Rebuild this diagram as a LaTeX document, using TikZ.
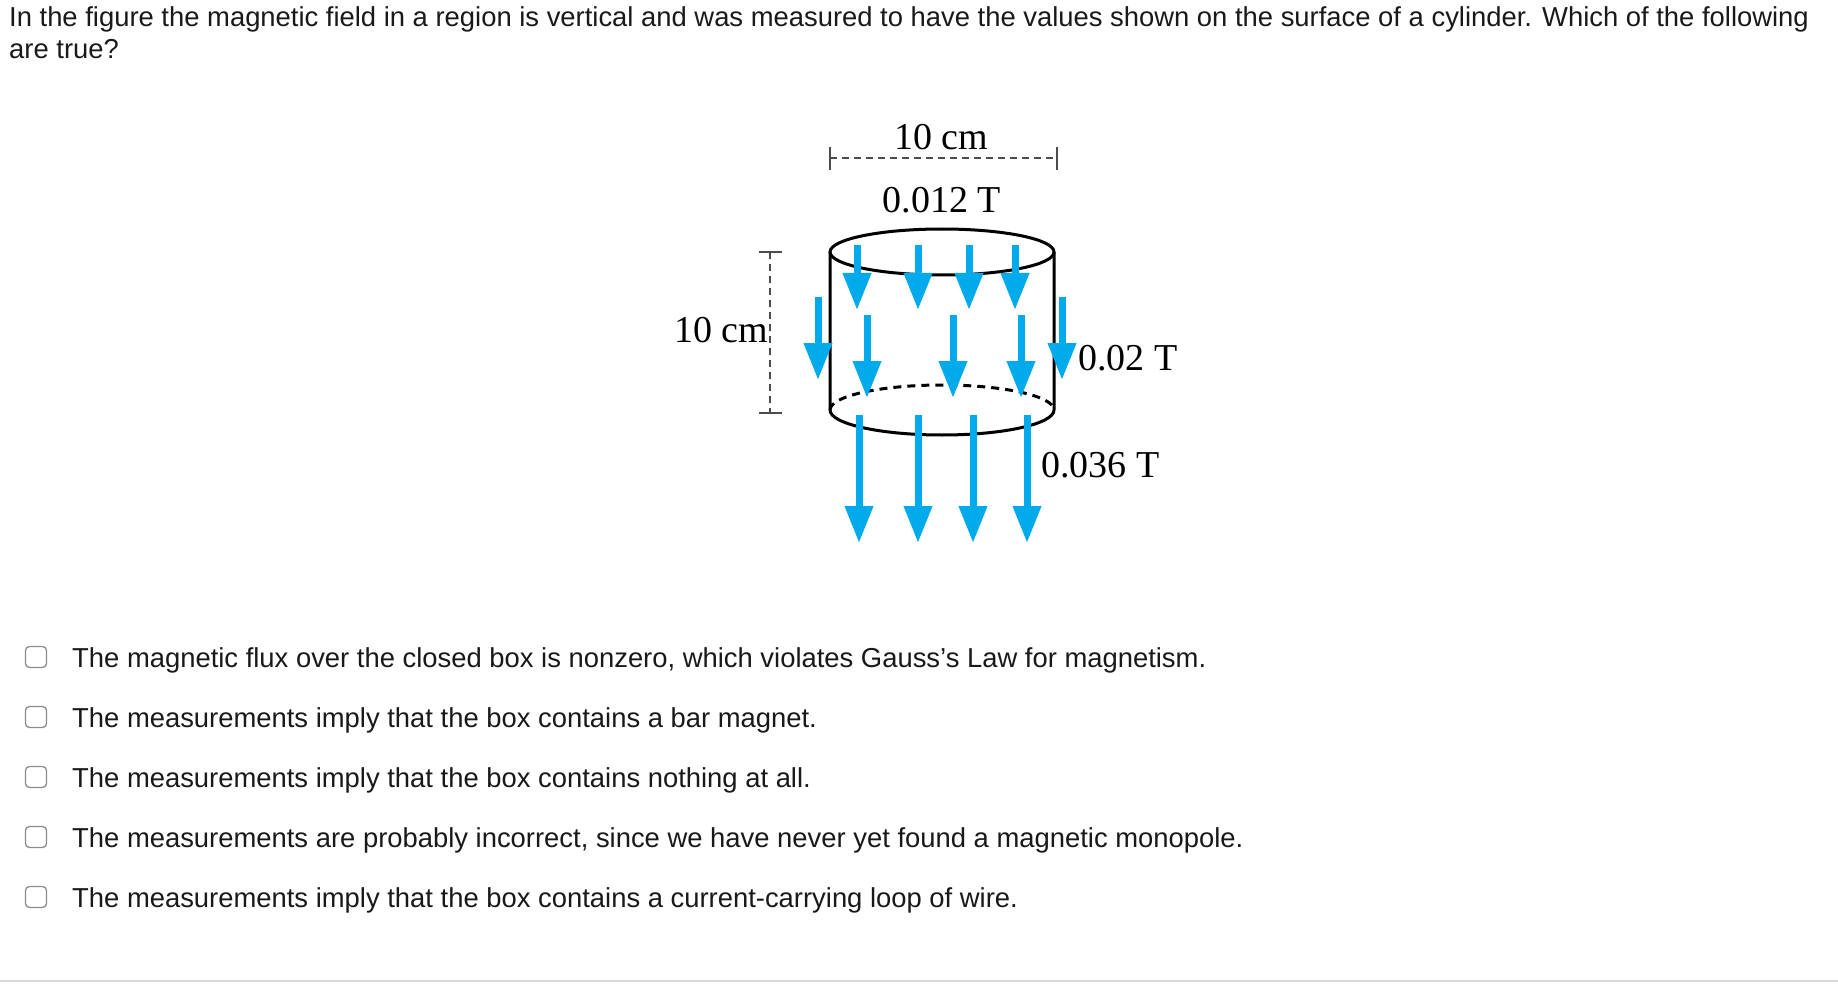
\documentclass[tikz,border=0pt]{standalone}
\usepackage{fontspec}
\setmainfont{Liberation Sans}
\newfontfamily\serif{Liberation Serif}
\usetikzlibrary{arrows.meta}
\definecolor{fieldblue}{RGB}{0,170,235}
\tikzset{
  qtext/.style={anchor=west,inner sep=0pt,font=\fontsize{27.4}{30}\selectfont,text=black!90},
  lbl/.style={inner sep=0pt,font=\serif\fontsize{38}{40}\selectfont},
  cbox/.style={draw=black!45,rounded corners=4pt,minimum size=21pt,inner sep=0pt,line width=1.3pt},
  farrow/.style={fieldblue,line width=7pt,-{Triangle[length=37pt,width=27pt]}},
  dim/.style={black!70,line width=1.2pt,dash pattern=on 7pt off 5pt},
  tick/.style={black!70,line width=1.2pt},
  cyl/.style={black,line width=3pt}
}
\begin{document}
\begin{tikzpicture}[x=1pt,y=-1pt]
\useasboundingbox (0,0) rectangle (1838,992);
\node[qtext] (q1) at (9,19) {In the figure the magnetic field in a region is vertical and was measured to have the values shown on the surface of a cylinder. Which of the following};
\node[qtext] (q2) at (9,49) {are true?};
% cylinder
\draw[cyl] (942,252) ellipse [x radius=112,y radius=23];
\draw[cyl] (830,252) -- (830,410) arc[start angle=180,end angle=0,x radius=112,y radius=25] -- (1054,252);
\draw[cyl,dash pattern=on 8pt off 6pt] (830,410) arc[start angle=180,end angle=360,x radius=112,y radius=25];
% dimensions
\coordinate (h1) at (830,158); \coordinate (h2) at (1057,158);
\draw[dim] (h1) -- (h2);
\draw[tick] (830,147) -- (830,170) (1057,147) -- (1057,170);
\node[lbl] (w) at (941,137) {10 cm};
\node[lbl] (t1) at (942,200) {0.012 T};
\coordinate (v1) at (770,252); \coordinate (v2) at (770,413);
\draw[dim] (v1) -- (v2);
\draw[tick] (759,252) -- (782,252) (759,413) -- (782,413);
\node[lbl] (h) at (721,330) {10 cm};
\node[lbl,anchor=west] (t2) at (1078,358) {0.02 T};
\node[lbl,anchor=west] (t3) at (1041,465) {0.036 T};
% arrows
\foreach \x in {857,918,969,1015} \draw[farrow] (\x,245) -- (\x,310);
\foreach \x in {818,1062} \draw[farrow] (\x,297) -- (\x,380);
\foreach \x in {867,953,1021} \draw[farrow] (\x,315) -- (\x,398);
\foreach \x in {859,918,973,1027} \draw[farrow] (\x,415) -- (\x,543);
% options
\foreach \y/\t [count=\i] in {660/{The magnetic flux over the closed box is nonzero, which violates Gauss's Law for magnetism.},
  720/{The measurements imply that the box contains a bar magnet.},
  780/{The measurements imply that the box contains nothing at all.},
  840/{The measurements are probably incorrect, since we have never yet found a magnetic monopole.},
  900/{The measurements imply that the box contains a current-carrying loop of wire.}}{
  \node[cbox] (c\i) at (36,\y-3) {};
  \node[qtext] (o\i) at (72,\y) {\t};
}
\draw[black!15,line width=1.5pt] (0,981) -- (1838,981);
\end{tikzpicture}
\end{document}
